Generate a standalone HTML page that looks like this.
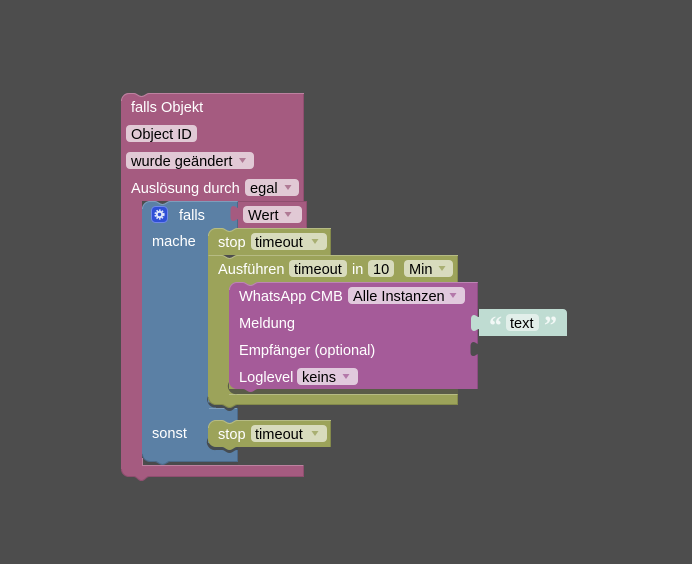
<!DOCTYPE html>
<html><head><meta charset="utf-8"><style>
html,body{margin:0;padding:0;background:#4d4d4d;width:692px;height:564px;overflow:hidden}
svg{display:block}
text{font-family:"Liberation Sans",sans-serif;font-size:14.6px}
.w{fill:#fff}.b{fill:#000}
</style></head><body>
<svg width="692" height="564" viewBox="0 0 692 564" xmlns="http://www.w3.org/2000/svg">
<rect width="692" height="564" fill="#4d4d4d"/>

<!-- Outer magenta -->
<path d="M121 101a8 8 0 0 1 8-8h5c3 0 4 3 7.500 3s4.500-3 7.500-3h155v108H142v265h162v11H149c-3 0-4 4-7.500 4s-4.500-4-7.500-4h-5a8 8 0 0 1-8-8z" fill="#a55b80"/>
<path d="M121.500 101a7.500 7.500 0 0 1 7.500-7.500h5c3 0 4 3 7.500 3s4.500-3 7.500-3h155" fill="none" stroke="#bd82a0" stroke-width="1"/>
<path d="M142.500 458v7.500h161" fill="none" stroke="#bd82a0" stroke-width="1"/>
<path d="M303.500 94v107M303.500 466v10.500H149c-3 0-4 4-7.500 4s-4.500-4-7.500-4h-5a7.500 7.500 0 0 1-7.500-7.500" fill="none" stroke="#8f4e6f" stroke-width="1"/>
<!-- Fields -->
<rect x="126" y="125" width="71" height="17" rx="4" fill="#e1c9d5"/>
<rect x="126" y="152" width="128" height="17" rx="4" fill="#e1c9d5"/>
<rect x="245" y="179" width="54" height="17" rx="4" fill="#e1c9d5"/>
<text class="w" x="131" y="112">falls Objekt</text>
<text class="b" x="131" y="139">Object ID</text>
<text class="b" x="131" y="166">wurde geändert</text>
<text class="w" x="131" y="193">Auslösung durch</text>
<text class="b" x="250" y="193">egal</text>
<path d="M239 158h7l-3.500 5zM284.500 185h7l-3.500 5z" fill="#b07a95"/>

<!-- Blue shadow -->
<path d="M143 457a8 8 0 0 0 7 8h88v-5h-95z" fill="#4a4a4c"/>
<!-- Blue -->
<path d="M142 209a8 8 0 0 1 8-8h5c3 0 4 3 7.500 3s4.500-3 7.500-3h68v27h-30v180h30v12h-30v27h30v14h-68c-3 0-4 3-7.500 3s-4.500-3-7.500-3h-5a8 8 0 0 1-8-8z" fill="#5b80a5"/>
<!-- Blue behind olive corners and notches -->
<rect x="207" y="228" width="31" height="5" fill="#5b80a5"/>
<rect x="207" y="228" width="9" height="190" fill="#5b80a5"/>
<rect x="207" y="420" width="31" height="5" fill="#5b80a5"/>
<rect x="207" y="420" width="9" height="30" fill="#5b80a5"/>
<path d="M142.500 209a7.500 7.500 0 0 1 7.500-7.500h5c3 0 4 3 7.500 3s4.500-3 7.500-3h67.500M209 408.500h28.500" fill="none" stroke="#7f9dbb" stroke-width="1"/>
<path d="M237.500 202v26M237.500 408v12M237.500 448v13.500h-67.500c-3 0-4 3-7.500 3s-4.500-3-7.500-3h-5a7.500 7.500 0 0 1-7.500-7.500" fill="none" stroke="#4c6a8a" stroke-width="1"/>
<rect x="151.500" y="206.500" width="16" height="16" rx="4" fill="#2f4fd6" stroke="#6f86ea" stroke-width="1"/>
<circle cx="159.500" cy="214.500" r="2.700" fill="none" stroke="#dfe6fb" stroke-width="2"/>
<circle cx="159.500" cy="214.500" r="4.300" fill="none" stroke="#dfe6fb" stroke-width="1.600" stroke-dasharray="1.600 1.215"/>
<text class="w" x="179" y="220">falls</text>
<text class="w" x="152" y="246">mache</text>
<text class="w" x="152" y="438">sonst</text>

<!-- Wert -->
<path d="M238 201h69v27h-69z" fill="#a55b80"/>
<path d="M238 201.500h68.500v26" fill="none" stroke="#8f4e6f" stroke-width="1"/>
<path d="M238.500 208c-2 0-3-2-5-2s-3 2-3 4v7c0 3 1 4 3 4s3-2 5-2z" fill="#a55b80"/>
<rect x="243" y="206" width="59" height="17" rx="4" fill="#e1c9d5"/>
<text class="b" x="248" y="220">Wert</text>
<path d="M284.500 212h7l-3.500 5z" fill="#b07a95"/>

<!-- Shadows under olive blocks on blue -->
<path d="M208 396a8 8 0 0 0 8 11.500h6c3 0 4 3.500 7.500 3.500s4.500-3.500 7.500-3.500h1v-5h-30zM208 438a8 8 0 0 0 8 12h6c3 0 4 3 7.500 3s4.500-3 7.500-3h1v-7h-30z" fill="#454c52"/>

<!-- Stop 1 -->
<path d="M208 236a8 8 0 0 1 8-8h6c3 0 4 3 7.500 3s4.500-3 7.500-3h94v27h-123z" fill="#9ca35a"/>
<path d="M208.500 236a7.500 7.500 0 0 1 7.500-7.500h6c3 0 4 3 7.500 3s4.500-3 7.500-3h94" fill="none" stroke="#b6bb84" stroke-width="1"/>
<path d="M330.500 229v26" fill="none" stroke="#848a4b" stroke-width="1"/>
<rect x="251" y="233" width="76" height="17" rx="4" fill="#d8dbbd"/>
<text class="w" x="218" y="247">stop</text>
<text class="b" x="255" y="247">timeout</text>
<path d="M311.500 239h7l-3.500 5z" fill="#a9af72"/>

<!-- Ausführen -->
<path d="M208 255h14c3 0 4 3 7.500 3s4.500-3 7.500-3h221v27h-229v112h229v11H237c-3 0-4 3-7.500 3s-4.500-3-7.500-3h-6a8 8 0 0 1-8-8z" fill="#9ca35a"/>
<!-- Olive behind purple corners and notches -->
<rect x="228" y="282" width="31" height="5" fill="#9ca35a"/>
<rect x="228" y="282" width="10" height="112" fill="#9ca35a"/>
<path d="M208.500 255.500h13.500c3 0 4 3 7.500 3s4.500-3 7.500-3h221" fill="none" stroke="#b6bb84" stroke-width="1"/>
<path d="M229 394.500h228" fill="none" stroke="#b6bb84" stroke-width="1"/>
<path d="M457.500 256v26M457.500 395v9.500H237c-3 0-4 3-7.500 3s-4.500-3-7.500-3h-6a7.500 7.500 0 0 1-7.500-7.500" fill="none" stroke="#848a4b" stroke-width="1"/>
<rect x="289" y="260" width="58" height="17" rx="4" fill="#d8dbbd"/>
<rect x="368" y="260" width="26" height="17" rx="4" fill="#d8dbbd"/>
<rect x="404" y="260" width="49" height="17" rx="4" fill="#d8dbbd"/>
<text class="w" x="218" y="274">Ausführen</text>
<text class="b" x="294" y="274">timeout</text>
<text class="w" x="352" y="274">in</text>
<text class="b" x="373" y="274">10</text>
<text class="b" x="409" y="274">Min</text>
<path d="M438.500 266h7l-3.500 5z" fill="#a9af72"/>

<!-- WhatsApp shadow + body -->
<path d="M229 382a8 8 0 0 0 8 12h221v-5H229z" fill="#5a5c48"/>
<path d="M229 290a8 8 0 0 1 8-8h6c3 0 4 3 7.500 3s4.500-3 7.500-3h220v107H258c-3 0-4 3-7.500 3s-4.500-3-7.500-3h-6a8 8 0 0 1-8-8z" fill="#a55b99"/>
<path d="M229.500 290a7.500 7.500 0 0 1 7.500-7.500h6c3 0 4 3 7.500 3s4.500-3 7.500-3h219.500" fill="none" stroke="#bd85b4" stroke-width="1"/>
<path d="M477.500 283v106" fill="none" stroke="#8c4d82" stroke-width="1"/>
<rect x="348" y="287" width="117" height="17" rx="4" fill="#e1c9dd"/>
<rect x="297" y="368" width="61" height="17" rx="4" fill="#e1c9dd"/>
<text class="w" x="239" y="301">WhatsApp CMB</text>
<text class="b" x="353" y="301">Alle Instanzen</text>
<text class="w" x="239" y="328">Meldung</text>
<text class="w" x="239" y="355">Empfänger (optional)</text>
<text class="w" x="239" y="382">Loglevel</text>
<text class="b" x="302" y="382">keins</text>
<path d="M449.500 293h7l-3.500 5zM342.500 374h7l-3.500 5z" fill="#b478aa"/>
<!-- Empty input socket -->
<path d="M478.500 344c-2 0-3-2-5-2s-3 2-3 4v6c0 3 1 4 3 4s3-2 5-2z" fill="#4d4d4d"/>

<!-- Text block -->
<path d="M479 309h84a4 4 0 0 1 4 4v23h-88v-7c-2 0-3 2-5 2s-3-2-3-4v-8c0-2 1-4 3-4s3 2 5 2z" fill="#bfdcd2"/>
<rect x="506" y="314" width="33" height="17" rx="4" fill="#e2efea"/>
<text class="b" x="510" y="328">text</text>
<text x="489" y="334" style="font-size:26px;font-weight:bold;font-family:'Liberation Serif',serif" fill="#f2f8f6">“</text>
<text x="544" y="334" style="font-size:26px;font-weight:bold;font-family:'Liberation Serif',serif" fill="#f2f8f6">”</text>

<!-- Stop 2 -->
<path d="M208 428a8 8 0 0 1 8-8h6c3 0 4 3 7.500 3s4.500-3 7.500-3h94v27H237c-3 0-4 3-7.500 3s-4.500-3-7.500-3h-6a8 8 0 0 1-8-8z" fill="#9ca35a"/>
<path d="M208.500 428a7.500 7.500 0 0 1 7.500-7.500h6c3 0 4 3 7.500 3s4.500-3 7.500-3h94" fill="none" stroke="#b6bb84" stroke-width="1"/>
<path d="M330.500 421v26" fill="none" stroke="#848a4b" stroke-width="1"/>
<rect x="251" y="425" width="76" height="17" rx="4" fill="#d8dbbd"/>
<text class="w" x="218" y="439">stop</text>
<text class="b" x="255" y="439">timeout</text>
<path d="M311.500 431h7l-3.500 5z" fill="#a9af72"/>
</svg>
</body></html>
